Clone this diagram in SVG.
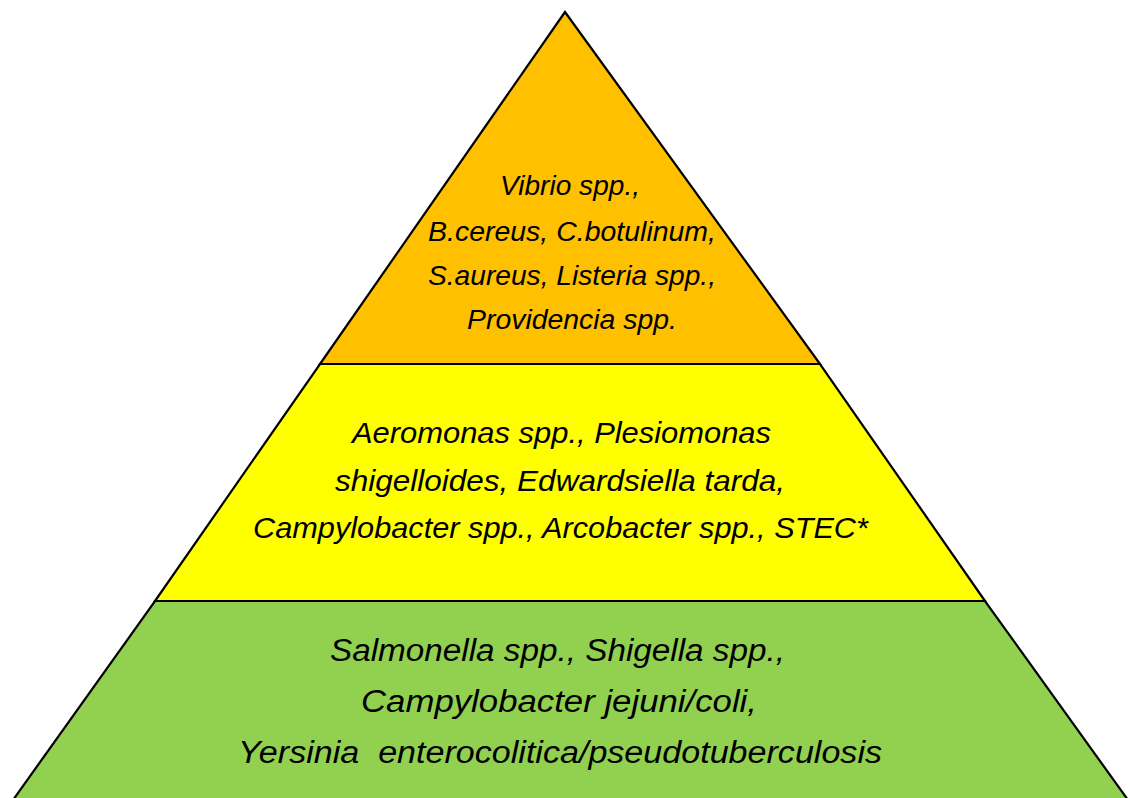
<svg xmlns="http://www.w3.org/2000/svg" width="1130" height="798" viewBox="0 0 1130 798">
<style>
.band{stroke:#000;stroke-width:2.2;stroke-linejoin:miter}
.t{font-family:"Liberation Sans",Arial,sans-serif;font-style:italic;fill:#000}
.s1{font-size:27px}
.s2{font-size:29px}
.s3{font-size:31px}
</style>
<rect width="1130" height="798" fill="#fff"/>
<g id="band-bottom">
<polygon class="band" points="155,601 985,601 1128,800 13,800" fill="#92D050"/>
<text class="t s3" x="330" y="661" textLength="455" lengthAdjust="spacingAndGlyphs">Salmonella spp., Shigella spp.,</text>
<text class="t s3" x="361" y="712" textLength="396" lengthAdjust="spacingAndGlyphs">Campylobacter jejuni/coli,</text>
<text class="t s3" x="238" y="763" textLength="644" lengthAdjust="spacingAndGlyphs" xml:space="preserve">Yersinia  enterocolitica/pseudotuberculosis</text>
</g>
<g id="band-middle">
<polygon class="band" points="320,364 820,364 985,601 155,601" fill="#FFFF00"/>
<text class="t s2" x="352" y="443" textLength="419" lengthAdjust="spacingAndGlyphs">Aeromonas spp., Plesiomonas</text>
<text class="t s2" x="335" y="491" textLength="450" lengthAdjust="spacingAndGlyphs">shigelloides, Edwardsiella tarda,</text>
<text class="t s2" x="253" y="538" textLength="615" lengthAdjust="spacingAndGlyphs">Campylobacter spp., Arcobacter spp., STEC*</text>
</g>
<g id="band-top">
<polygon class="band" points="565,12 820,364 320,364" fill="#FFC000"/>
<text class="t s1" x="500" y="195" textLength="140" lengthAdjust="spacingAndGlyphs">Vibrio spp.,</text>
<text class="t s1" x="428" y="241" textLength="288" lengthAdjust="spacingAndGlyphs">B.cereus, C.botulinum,</text>
<text class="t s1" x="428" y="285" textLength="288" lengthAdjust="spacingAndGlyphs">S.aureus, Listeria spp.,</text>
<text class="t s1" x="467" y="329" textLength="210" lengthAdjust="spacingAndGlyphs">Providencia spp.</text>
</g>
</svg>
